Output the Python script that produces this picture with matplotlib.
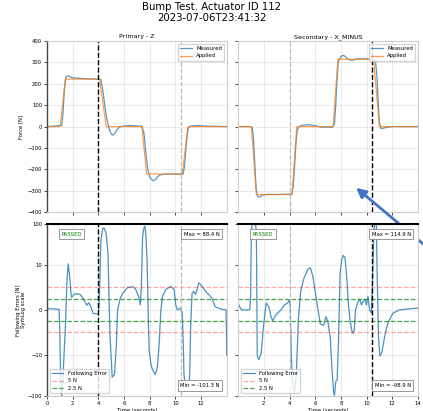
"""
Bump test plot: applied/measured force and following error for two actuators
"""
import numpy as np
import matplotlib.pyplot as plt
from matplotlib.ticker import NullLocator

# Primary - Z
t_app_p = [0, 1.03, 1.44, 4.10, 4.61, 7.40, 7.76, 10.54, 10.98, 14]
f_app_p = [0, 0, 222, 222, 0, 0, -222, -222, 0, 0]
t_meas_p = [0, 1.15, 1.25, 1.35, 1.45, 1.55, 1.65, 1.8, 2.0, 2.5, 3.0, 3.5, 4.0,
            4.2, 4.35, 4.5, 4.65, 4.8, 4.95, 5.1, 5.25, 5.45, 5.65, 6.0, 6.5,
            7.0, 7.4, 7.55, 7.7, 7.85, 8.0, 8.15, 8.3, 8.45, 8.6, 8.8, 9.2,
            10.0, 10.6, 10.7, 10.8, 10.9, 11.0, 11.1, 11.3, 11.8, 12.5, 14]
f_meas_p = [0, 5, 60, 170, 225, 236, 238, 233, 228, 226, 224, 223, 222,
            220, 170, 100, 40, 0, -28, -40, -35, -15, -2, 3, 5,
            3, 1, -30, -120, -200, -235, -248, -253, -248, -235, -226, -222,
            -222, -222, -190, -120, -50, -10, 0, 3, 5, 2, 0]
t_err_p = [0, 0.5, 0.95, 1.0, 1.08, 1.15, 1.22, 1.3, 1.45, 1.55, 1.65, 1.75,
           1.9, 2.2, 2.6, 2.9, 3.1, 3.25, 3.4, 3.6, 4.0, 4.08, 4.2, 4.35, 4.45,
           4.6, 4.75, 4.9, 5.08, 5.26, 5.4, 5.5, 5.7, 5.9, 6.3, 6.7, 6.9, 7.14,
           7.27, 7.35, 7.45, 7.55, 7.63, 7.7, 7.8, 7.9, 7.96, 8.1, 8.22, 8.43,
           8.6, 8.74, 8.87, 9.0, 9.25, 9.64, 9.9, 10.03, 10.15, 10.4, 10.54,
           10.62, 10.67, 10.8, 10.93, 11.06, 11.13, 11.19, 11.3, 11.44, 11.57,
           11.83, 12.09, 12.35, 12.6, 12.86, 13.1, 13.5, 13.95, 14]
e_p = [0.3, 0.2, 0.1, -5, -60, -101.3, -60, -15, -3, 6, 10.5, 8,
       2.8, 3.6, 3.4, 2.2, 1.0, 1.6, 0.8, -0.8, -0.9, 2, 40, 78, 80,
       60, 20, -5, -35, -30, -8, 0, 2.5, 3.7, 5.0, 5.1, 4.6, 3,
       1.1, 5, 50, 80, 88.4, 55, 12, -3, -9, -17, -23, -30,
       -20, -7.5, 0, 3, 4.5, 5.2, 4.5, 1.1, 0, 0.4, -0.7,
       -8, -30, -65, -45, -70, -20, -3.7, 3.7, 4.1, 3.4,
       6, 5.2, 4.1, 3.4, 2.5, 0.7, 0.2, 0, -10]

# Secondary - X_MINUS
t_app_s = [0, 1.03, 1.42, 4.20, 4.56, 7.39, 7.77, 10.55, 11.0, 14]
f_app_s = [0, 0, -318, -318, 0, 0, 315, 315, 0, 0]
t_meas_s = [0, 1.0, 1.1, 1.2, 1.3, 1.4, 1.5, 1.6, 1.7, 1.85, 2.2, 3.0, 4.0,
            4.2, 4.3, 4.4, 4.5, 4.6, 4.75, 5.0, 5.5, 6.0, 6.5, 7.0, 7.35,
            7.5, 7.6, 7.7, 7.8, 7.95, 8.1, 8.2, 8.35, 8.5, 8.7, 8.9, 9.1,
            9.5, 10.0, 10.5, 10.6, 10.7, 10.8, 10.9, 11.0, 11.1, 11.3, 11.6,
            12.0, 14]
f_meas_s = [0, 0, -5, -60, -180, -290, -325, -330, -328, -322, -317, -318, -316,
            -316, -270, -180, -80, -15, 0, 6, 9, 4, -3, -2, -3,
            10, 100, 220, 305, 323, 332, 333, 328, 318, 312, 310, 315,
            317, 317, 316, 315, 305, 240, 120, 20, -8, -8, -3,
            0, 0]
t_err_s = [0, 0.1, 0.26, 0.6, 0.9, 0.97, 1.02, 1.08, 1.15, 1.25, 1.35, 1.42,
           1.49, 1.61, 1.8, 1.97, 2.18, 2.38, 2.56, 2.69, 2.94, 3.33, 3.59,
           3.84, 3.97, 4.05, 4.15, 4.28, 4.38, 4.53, 4.69, 4.87, 5.12, 5.45,
           5.63, 5.81, 6.02, 6.22, 6.4, 6.66, 6.84, 6.99, 7.17, 7.3, 7.43, 7.5,
           7.6, 7.71, 7.81, 7.94, 8.07, 8.19, 8.32, 8.45, 8.58, 8.71, 8.89,
           9.04, 9.14, 9.3, 9.47, 9.6, 9.73, 9.86, 9.99, 10.11, 10.24, 10.37,
           10.47, 10.58, 10.68, 10.76, 10.83, 10.93, 11.04, 11.19, 11.4, 11.65,
           12.04, 12.55, 13.2, 14]
e_s = [1.5, 0.8, 0, 0, 0, 3, 40, 100, 114.9, 110, 105, 60,
       -10.5, -13, -9.5, -3.7, 1.5, 0.75, -1.5, -2.4, -1.1, 0, 1.1,
       1.5, 2.1, 1.0, -13, -65, -85, -30, -2.2, 4.1, 7, 9.1,
       9.3, 7.5, 3.7, 0, -3.1, -3.4, -1.5, -2.6, -6, -20, -80, -98.9,
       -45, -40, -7.5, 8.2, 13.5, 16.9, 14.8, 7.5, 1.5, -2.2, -5.2,
       -4.5, 0, 1.5, 2.4, 1.1, 1.9, 2.4, 1.1, 3, 0, -0.7,
       7, 80, 110, 100, 7, -6, -10.5, -9.5, -6, -3,
       -0.75, 0, 0.2, 0.4]

titles = ["Primary - Z", "Secondary - X_MINUS"]
black_line = [4.0, 10.4]   # black dashed marker per panel
gray_line = [10.4, 4.0]
max_txt = ["Max = 88.4 N", "Max = 114.9 N"]
min_txt = ["Min = -101.3 N", "Min = -98.9 N"]

fs = 3.8
fig = plt.figure(figsize=(4.23, 4.11), dpi=100)
fig.suptitle("Bump Test. Actuator ID 112\n2023-07-06T23:41:32",
             fontsize=7.3, y=0.995, linespacing=1.1)

lefts = [0.111, 0.563]
top_axes = [fig.add_axes([l, 0.484, 0.425, 0.416]) for l in lefts]
bot_axes = [fig.add_axes([l, 0.037, 0.425, 0.418]) for l in lefts]

data = [(t_app_p, f_app_p, t_meas_p, f_meas_p, t_err_p, e_p),
        (t_app_s, f_app_s, t_meas_s, f_meas_s, t_err_s, e_s)]

for i, (ta, fa, tm, fm, te, ee) in enumerate(data):
    ax = top_axes[i]
    ax.plot(tm, fm, color="C0", lw=0.9, alpha=0.75, label="Measured")
    ax.plot(ta, fa, color="C1", lw=0.9, alpha=0.75, label="Applied")
    ax.axvline(black_line[i], color="k", ls="--", lw=1.0)
    ax.axvline(gray_line[i], color="#bbbbbb", ls="--", lw=0.9)
    ax.set_xlim(0, 14)
    ax.set_ylim(-400, 400)
    ax.set_xticks(range(2, 14, 2))
    ax.set_xticklabels([])
    ax.set_yticks(range(-400, 401, 100))
    ax.set_title(titles[i], fontsize=4.6, pad=2)
    ax.legend(loc="upper right", fontsize=fs, handlelength=2.2,
              borderpad=0.4, framealpha=0.8, edgecolor="#cccccc", fancybox=False)
    if i == 0:
        ax.set_ylabel("Force [N]", fontsize=fs, labelpad=3)
    else:
        ax.set_yticklabels([])

    bx = bot_axes[i]
    bx.plot(te, ee, color="C0", lw=0.9, alpha=0.8, label="Following Error")
    bx.axhline(5, color="red", ls="--", lw=0.9, alpha=0.35, label="5 N")
    bx.axhline(-5, color="red", ls="--", lw=0.9, alpha=0.35)
    bx.axhline(2.5, color="green", ls="--", lw=0.9, alpha=0.7, label="2.5 N")
    bx.axhline(-2.5, color="green", ls="--", lw=0.9, alpha=0.7)
    bx.axvline(black_line[i], color="k", ls="--", lw=1.0)
    bx.axvline(gray_line[i], color="#bbbbbb", ls="--", lw=0.9)
    bx.set_yscale("symlog", linthresh=10)
    bx.set_ylim(-100, 100)
    bx.set_xlim(0, 14)
    bx.set_yticks([-100, -10, 0, 10, 100])
    bx.yaxis.set_minor_locator(NullLocator())
    if i == 0:
        bx.set_yticklabels(["\u2212100", "\u221210", "0", "10", "100"])
        bx.set_ylabel("Following Errors [N]\nSymLog scale", fontsize=fs,
                      labelpad=1, linespacing=1.0)
        bx.set_xticks(range(0, 13, 2))
    else:
        bx.set_yticklabels([])
        bx.set_xticks(range(2, 15, 2))
    bx.set_xlabel("Time (seconds)", fontsize=fs, labelpad=2)
    bx.legend(loc="lower left", fontsize=fs, handlelength=2.2,
              borderpad=0.4, framealpha=0.8, edgecolor="#cccccc", fancybox=False)
    box = dict(boxstyle="square,pad=0.5", fc="white", ec="#888888", lw=0.6)
    bx.text(0.08, 0.955, "PASSED", color="green", fontsize=fs,
            transform=bx.transAxes, va="top", bbox=box)
    bx.text(0.96, 0.955, max_txt[i], fontsize=fs, ha="right", va="top",
            transform=bx.transAxes, bbox=box)
    bx.text(0.96, 0.045, min_txt[i], fontsize=fs, ha="right", va="bottom",
            transform=bx.transAxes, bbox=box)
    bx.spines["top"].set_color("k")
    bx.spines["top"].set_linewidth(1.5)

for ax in top_axes + bot_axes:
    ax.grid(True, color="#e6e6e6", lw=0.6)
    ax.tick_params(labelsize=fs, length=2, width=0.5, pad=1.5)
    for name in ["left", "right", "bottom"]:
        ax.spines[name].set_color("#cccccc")
    if ax not in bot_axes:
        ax.spines["top"].set_color("#cccccc")
for ax in [top_axes[0], bot_axes[0]]:
    ax.spines["left"].set_color("#444444")
    ax.spines["left"].set_linewidth(1.0)

# blue pointer arrow over the secondary panel
top_axes[1].annotate("", xy=(354, 225), xycoords="figure pixels",
                     xytext=(428, 163), textcoords="figure pixels",
                     arrowprops=dict(arrowstyle="-|>", color="#4472c4", lw=2.0,
                                     mutation_scale=14),
                     annotation_clip=False)

fig.savefig("out.png", dpi=100)
